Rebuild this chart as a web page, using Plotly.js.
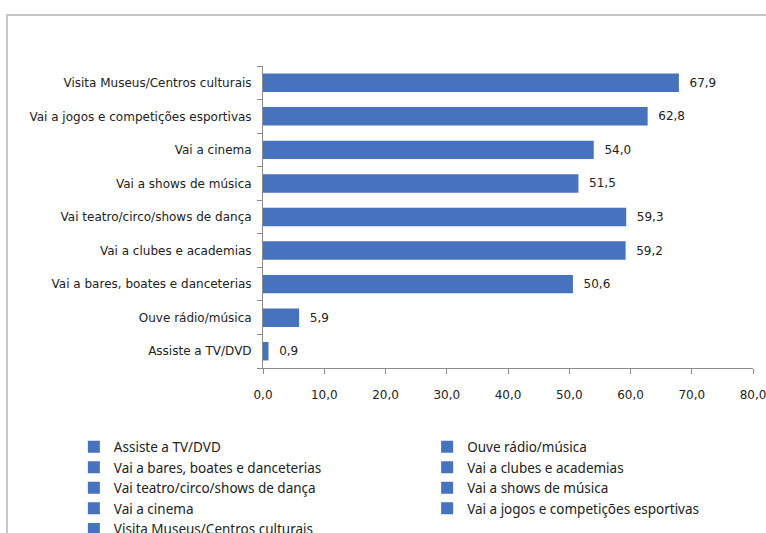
<!DOCTYPE html>
<html>
<head>
<meta charset="utf-8">
<script src="https://cdn.plot.ly/plotly-3.0.1.min.js"></script>
<style>
  html, body { margin: 0; padding: 0; background: #ffffff; overflow: hidden; }
  #wrap { position: relative; width: 766px; height: 533px; }
  #chart { width: 766px; height: 533px; }
  #frame { position: absolute; left: 6px; top: 14px; width: 800px; height: 600px;
           border: 2px solid #c6c6c6; pointer-events: none; box-sizing: border-box; }
</style>
</head>
<body>
<div id="wrap">
  <div id="chart"></div>
  <div id="frame"></div>
</div>
<script>
// Categories (bottom to top, also legend order)
const categories = [
  "Assiste a TV/DVD",
  "Ouve rádio/música",
  "Vai a bares, boates e danceterias",
  "Vai a clubes e academias",
  "Vai teatro/circo/shows de dança",
  "Vai a shows de música",
  "Vai a cinema",
  "Vai a jogos e competições esportivas",
  "Visita Museus/Centros culturais"
];
const values = [0.9, 5.9, 50.6, 59.2, 59.3, 51.5, 54.0, 62.8, 67.9];
const xTicks = [0, 10, 20, 30, 40, 50, 60, 70, 80];

const barColor = "#4672be";
const textFont = { family: "DejaVu Sans, Verdana, sans-serif", size: 12, color: "#222222" };
const legendFont = { family: "Noto Sans, DejaVu Sans, sans-serif", size: 13.5, color: "#222222" };

const traces = categories.map((c, i) => ({
  type: "bar",
  orientation: "h",
  name: c,
  x: [values[i]],
  y: [c],
  marker: { color: barColor },
  texttemplate: "\u00a0\u00a0%{x:.1f}",
  textposition: "outside",
  textfont: textFont,
  cliponaxis: false,
  hoverinfo: "skip",
  legend: (i % 2 === 0) ? "legend" : "legend2"
}));

const legendCommon = {
  orientation: "v",
  yanchor: "top",
  xanchor: "left",
  itemwidth: 30,
  traceorder: "normal",
  font: legendFont,
  bgcolor: "rgba(0,0,0,0)",
  borderwidth: 0,
  tracegroupgap: 0
};

const layout = {
  width: 766,
  height: 533,
  margin: { l: 263, r: 13, t: 66, b: 165, autoexpand: false },
  paper_bgcolor: "#ffffff",
  plot_bgcolor: "#ffffff",
  separators: ",.",
  barmode: "overlay",
  bargap: 0.45,
  font: textFont,
  xaxis: {
    range: [0, 80],
    tickvals: xTicks,
    tickformat: ".1f",
    showgrid: false,
    zeroline: false,
    showline: true,
    linecolor: "#8c8c8c",
    linewidth: 1,
    ticks: "outside",
    ticklen: 5,
    tickcolor: "#8c8c8c",
    ticklabelstandoff: 11,
    ticklabeloverflow: "allow",
    tickfont: textFont,
    fixedrange: true
  },
  yaxis: {
    type: "category",
    categoryorder: "array",
    categoryarray: categories,
    showgrid: false,
    zeroline: false,
    showline: true,
    linecolor: "#8c8c8c",
    linewidth: 1,
    ticks: "outside",
    tickson: "boundaries",
    ticklen: 5,
    tickcolor: "#8c8c8c",
    ticklabelstandoff: 8,
    tickfont: textFont,
    fixedrange: true
  },
  showlegend: true,
  legend: Object.assign({}, legendCommon, { x: -0.386, y: -0.21 }),
  legend2: Object.assign({}, legendCommon, { x: 0.335, y: -0.21 })
};

Plotly.newPlot("chart", traces, layout, { displayModeBar: false, staticPlot: true });
</script>
</body>
</html>
